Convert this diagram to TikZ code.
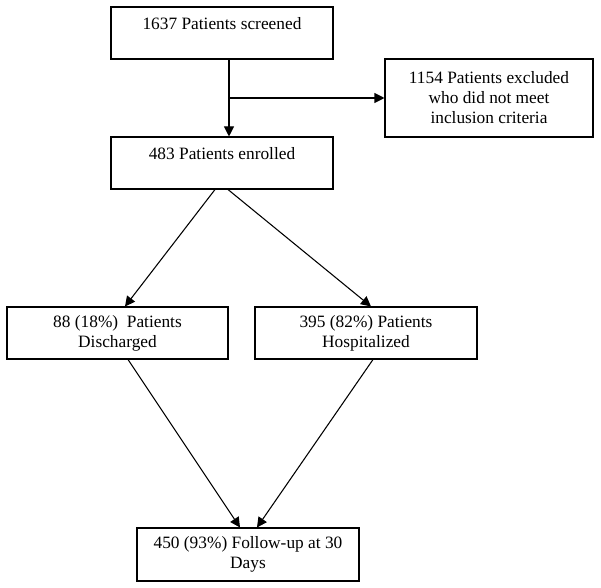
\documentclass[tikz,border=0pt]{standalone}
\usepackage{fontspec}
\setmainfont{Liberation Serif}
\usepackage{tikz}
\usetikzlibrary{positioning,calc,arrows.meta}

\tikzset{
  box/.style={draw, line width=0.8pt, rectangle, align=center, inner sep=2pt,
    minimum width=222*0.75pt, minimum height=52*0.75pt,
    font=\fontsize{13}{15}\selectfont},
  onerow/.style={text height=9pt, text depth=14.5pt},
  arr/.style={line width=0.8pt, -{Triangle[length=7.5pt,width=7.5pt]}}
}

\begin{document}
\begin{tikzpicture}[x=0.75pt, y=-0.75pt]
            \useasboundingbox (0,0) rectangle (601,588);

            % Boxes
            \node[box, onerow] (screened) at (222,33) {1637 Patients screened};
            \node[box, onerow] (enrolled) at (222,163) {483 Patients enrolled};
            \node[box, minimum width=208*0.75pt, minimum height=78*0.75pt] (excluded) at (489,98)
                {1154 Patients excluded\\who did not meet\\inclusion criteria};
            \node[box, minimum width=221*0.75pt] (discharged) at (117.5,333) {88 (18\%)~ Patients\\Discharged};
            \node[box] (hospitalized) at (366,333) {395 (82\%) Patients\\Hospitalized};
            \node[box, minimum height=53*0.75pt] (followup) at (248,554.5) {450 (93\%) Follow-up at 30\\Days};

            % Screening to enrollment
            \coordinate (split) at (229,98);
            \draw[line width=0.8pt] (screened.south -| split) -- (split);
            \draw[arr] (split) -- (enrolled.north -| split);
            \draw[arr] (split) -- (excluded);

            % Split by outcome
            \draw[arr] ($(enrolled.south)+(-7,0)$) -- ($(discharged.north)+(7.5,0)$);
            \draw[arr] ($(enrolled.south)+(6,0)$) -- ($(hospitalized.north)+(5,0)$);
            \draw[arr] ($(discharged.south)+(10.5,0)$) -- ($(followup.north)+(-8,0)$);
            \draw[arr] ($(hospitalized.south)+(7,0)$) -- ($(followup.north)+(9,0)$);
        \end{tikzpicture}
\end{document}
